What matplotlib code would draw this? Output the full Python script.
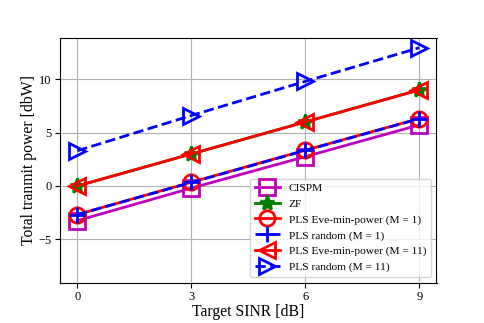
import matplotlib
matplotlib.use("Agg")
import matplotlib.pyplot as plt

plt.rcParams['font.family'] = ['Liberation Serif', 'DejaVu Serif']
plt.rcParams['mathtext.fontset'] = 'stix'

sinr = [0, 3, 6, 9]
cispm = [-3.25, -0.2, 2.75, 5.72]
zf = [0.0, 3.0, 6.0, 9.0]
pls_eve_m1 = [-2.68, 0.35, 3.35, 6.32]
pls_rand_m1 = [-2.68, 0.33, 3.33, 6.3]
pls_eve_m11 = [0.0, 3.0, 6.0, 9.0]
pls_rand_m11 = [3.3, 6.6, 9.8, 12.95]

xticks = [0, 3, 6, 9]
yticks = [-5, 0, 5, 10]

fig = plt.figure(figsize=(4.85, 3.23), dpi=100)
ax = fig.add_axes([0.124, 0.125, 0.776, 0.757])

ms = 11
mew = 2
ax.plot(sinr, cispm, color='m', ls='-', lw=2, marker='s', ms=ms, mfc='none', mew=mew, label='CISPM')
ax.plot(sinr, zf, color='green', ls='-', lw=2, marker='*', ms=ms, mew=mew, label='ZF')
ax.plot(sinr, pls_eve_m1, color='red', ls='-', lw=2, marker='o', ms=ms, mfc='none', mew=mew, label='PLS Eve-min-power (M = 1)')
ax.plot(sinr, pls_rand_m1, color='blue', ls='--', lw=2, marker='+', ms=ms, mew=mew, label='PLS random (M = 1)')
ax.plot(sinr, pls_eve_m11, color='red', ls='-', lw=2, marker='<', ms=ms + 1, mfc='none', mew=mew, label='PLS Eve-min-power (M = 11)')
ax.plot(sinr, pls_rand_m11, color='blue', ls='--', lw=2, marker='>', ms=ms + 1, mfc='none', mew=mew, label='PLS random (M = 11)')

ax.set_xlim(-0.45, 9.45)
ax.set_ylim(-9.05, 13.85)
ax.set_xticks(xticks)
ax.set_yticks(yticks)
ax.grid(True)
ax.tick_params(labelsize=9, pad=2.5)
ax.set_xlabel('Target SINR [dB]', fontsize=11.3, labelpad=1)
ax.set_ylabel('Total tranmit power [dbW]', fontsize=11.3, labelpad=1)
ax.legend(loc='lower right', fontsize=8.2, handlelength=2.2, labelspacing=0.5)

fig.savefig('out.png', dpi=100)
